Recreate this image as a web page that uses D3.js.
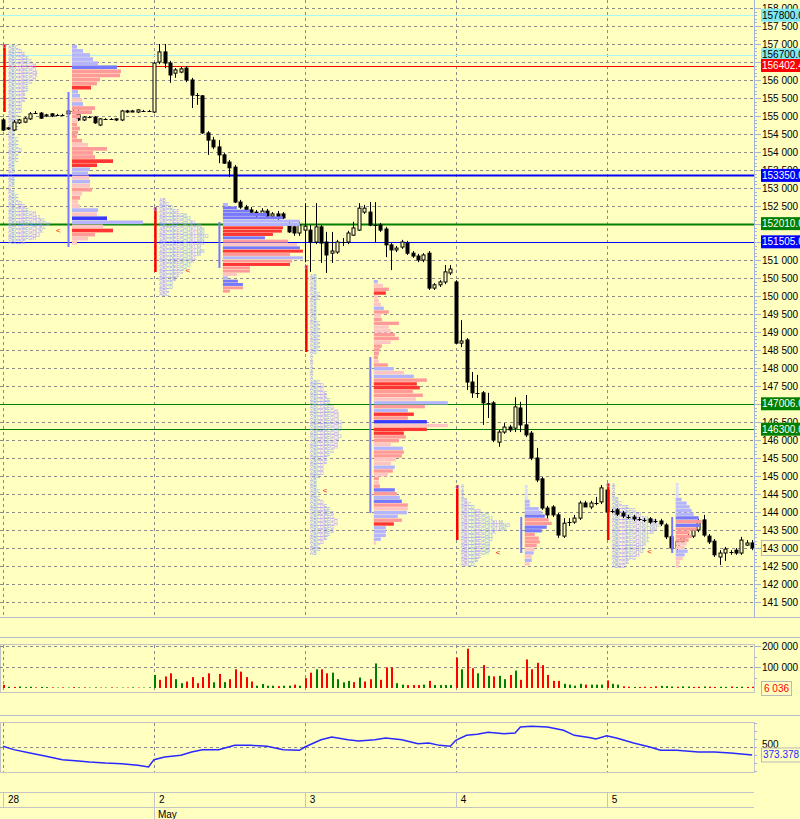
<!DOCTYPE html>
<html>
<head>
<meta charset="utf-8">
<script src="https://cdn.jsdelivr.net/npm/d3@7"></script>
<style>
  body { margin: 0; background: #ffffc0; }
  svg text { font-family: "Liberation Sans", Arial, sans-serif; }
</style>
</head>
<body>
<svg id="chart"></svg>
<script>
// sessions
const dayLabels = ['28', '2', '3', '4', '5'];
const dayFirstBar = [0, 28, 56, 84, 112];

// bars: [open, high, low, close]
const candles = [
  [154890,154940,154580,154610],[154640,154690,154610,154670],[154610,154890,154580,154830],[154810,154920,154780,154890],
  [154830,154970,154810,154940],[154920,155110,154890,155060],[155080,155140,155060,155080],[155080,155110,154920,154940],
  [155000,155060,154970,155030],[155060,155080,154970,155000],[155030,155060,155000,155030],[155030,155060,155000,155030],
  [155060,155170,155030,155140],[155140,155190,155110,155140],[155110,155220,154860,154890],[154890,155000,154860,154970],
  [154970,155000,154940,154970],[154970,155000,154780,154810],[154750,154940,154720,154920],[154920,154940,154890,154920],
  [154920,154940,154890,154920],[154890,154940,154860,154920],[154890,155170,154860,155140],[155140,155170,155080,155110],
  [155110,155170,155110,155140],[155110,155190,155080,155170],[155140,155170,155110,155140],[155140,155170,155110,155140],
  // 2 May
  [155110,156500,155080,156470],[156500,157000,156440,156780],[156780,157000,156330,156470],[156470,156530,155920,156140],
  [156190,156330,156060,156280],[156220,156360,156190,156310],[156330,156390,155940,156000],[156000,156060,155220,155580],
  [155580,155640,155310,155560],[155560,155580,154500,154530],[154530,154580,153920,154330],[154330,154420,154080,154140],
  [154140,154330,153690,153920],[153920,153970,153670,153690],[153720,153780,153310,153560],[153580,153640,152580,152610],
  [152610,152670,152420,152470],[152470,152530,152330,152390],[152390,152470,152280,152330],[152330,152390,152170,152250],
  [152250,152440,152220,152360],[152360,152420,152140,152220],[152220,152330,152170,152280],[152280,152360,152110,152190],
  [152280,152330,152140,152170],[152000,152060,151750,151780],[151920,151970,151670,151750],[151750,152060,151670,151970],
  // 3 May
  [151830,152580,150940,151940],[151830,151970,150670,151500],[151500,152580,151440,151920],[151920,151970,150920,151470],
  [151500,151780,150640,151140],[151190,151780,150920,151250],[151220,151560,151170,151500],[151500,151610,151390,151500],
  [151500,151810,151440,151750],[151690,152060,151670,151890],[151830,152580,151810,152440],[152330,152530,152280,152440],
  [152330,152610,151940,151970],[151970,152610,151500,151970],[151970,152030,151780,151830],[151860,151920,151080,151420],
  [151420,151470,150720,151280],[151280,151390,151220,151330],[151360,151560,151310,151500],[151470,151530,151140,151190],
  [151190,151250,151060,151110],[151110,151170,150940,151000],[151000,151190,150940,151140],[151190,151250,150170,150220],
  [150220,150360,150170,150310],[150310,150440,150250,150390],[150390,150860,150330,150670],[150640,150860,150580,150750],
  // 4 May
  [150390,150440,148670,148690],[148690,149330,148580,148750],[148780,148830,147390,147610],[147610,147890,147170,147310],
  [147310,147810,147170,147310],[147310,147360,146420,147030],[147030,147310,146610,147030],[147030,147080,145940,146000],
  [145940,146280,145810,146220],[146220,146470,146170,146360],[146360,146420,146220,146280],[146330,147190,146220,146920],
  [146890,147060,146220,146420],[146420,147250,146080,146140],[146190,146250,145440,145500],[145500,145780,144830,144890],
  [144920,144970,144060,144110],[144110,144170,143780,143920],[144140,144190,143860,143920],[143920,143970,143280,143360],
  [143330,143830,143280,143690],[143720,143830,143610,143720],[143720,143920,143670,143830],[143830,144310,143780,144250],
  [144250,144310,144140,144140],[144140,144310,144080,144250],[144250,144420,144190,144250],[144280,144750,144220,144670],
  // 5 May
  [144610,144750,143500,144000],[144030,144080,143970,144030],[144060,144110,143890,143940],[143970,144030,143830,143890],
  [143860,143920,143810,143860],[143860,143920,143750,143810],[143810,143860,143750,143810],[143780,143830,143720,143780],
  [143810,143860,143670,143720],[143750,143810,143690,143750],[143750,143810,143610,143670],[143640,143690,143250,143310],
  [143310,143360,142940,143000],[143000,143220,142940,143170],[143170,143360,143110,143310],[143330,143390,143280,143330],
  [143330,143560,143280,143500],[143500,143810,143440,143750],[143780,143920,143310,143360],[143330,143390,143110,143170],
  [143190,143250,142750,142810],[142750,142940,142530,142860],[142860,143030,142640,142970],[142890,142940,142810,142890],
  [142940,143000,142810,142860],[142860,143310,142810,143220],[143080,143220,143060,143140],[143140,143220,142940,143000]
];

const volumes = [
  15000,6000,5000,7000,4000,6000,3000,5000,4000,3000,2000,3000,2000,4000,3000,3000,2000,3000,2000,2000,3000,2000,2000,2000,3000,2000,2000,3000,
  62000,39000,55000,70000,42000,23000,31000,52000,23000,52000,70000,27000,67000,28000,42000,89000,78000,52000,31000,11000,19000,11000,11000,9000,11000,11000,16000,11000,
  47000,73000,89000,89000,70000,73000,42000,27000,34000,28000,50000,31000,42000,117000,39000,98000,98000,23000,16000,14000,14000,14000,16000,34000,14000,14000,14000,14000,
  145000,89000,187000,94000,70000,109000,58000,55000,58000,42000,62000,83000,39000,136000,89000,120000,109000,62000,34000,34000,20000,16000,11000,20000,16000,16000,16000,16000,
  36000,20000,16000,8000,6000,5000,5000,6000,5000,8000,10000,9000,7000,6000,8000,7000,5000,6000,7000,6000,5000,6000,5000,7000,5000,6000,5000,6036
];
const volumeSide =
  'rgrgggrggrgrgrgrggrgrggrgrgg' +
  'grrrggrrrrrgrgrrrrrggggrggrg' +
  'rrgrrggggrgrrgrrrggrrrgrgggg' +
  'rgrrgrgrggrgrrrrrrrrggggrggg' +
  'rggrrgrrrrgggrggrrgrrggrggrr';

// oscillator (lower pane)
const oscBar = [0,2,5,8,11,14,16,19,22,25,27,28,30,33,35,37,40,43,46,49,52,55,56,59,61,64,66,69,71,74,77,79,81,83,84,86,88,90,93,95,96,98,101,104,106,109,110,112,114,117,120,122,125,129,132,135,139];
const oscVal = [511,458,405,352,299,278,262,246,236,209,183,299,341,368,421,458,458,526,526,511,458,447,500,616,659,616,595,616,643,616,553,563,526,511,606,685,701,733,712,722,817,828,817,765,685,648,627,680,638,563,500,447,447,421,421,405,373.378];

// horizontal price levels
const levelPrice = [157800, 156700, 156402.4, 153350, 152010, 151505, 147006, 146300];
const levelText = ['157800.0', '156700.0', '156402.4', '153350.0', '152010.0', '151505.0', '147006.0', '146300.0'];
const levelKind = ['cyan', 'cyan', 'red', 'blue2', 'green2', 'blue', 'green', 'green'];

// market profile per session
const vpHigh = [156972, 152583, 150444, 144750, 144806];
const vpLow = [151417, 150083, 143083, 142500, 142444];
const vpVolume = [
  [5,11,18,21,26,45,49,48,28,25,19,6,8,10,11,23,20,8,6,5,8,6,5,10,16,35,21,23,41,25,18,16,17,18,18,20,10,8,6,8,26,25,35,71,31,41,23,16,5],
  [5,14,27,44,60,77,77,60,59,50,42,65,74,77,80,67,80,69,67,27,27,14,5,15,20,20,7],
  [4,9,15,12,4,5,7,10,15,7,8,25,15,17,21,25,17,8,6,5,4,5,14,20,30,40,53,43,46,39,49,42,74,51,34,40,34,53,74,53,30,32,25,17,29,30,28,22,17,21,19,14,5,5,6,21,23,26,28,34,34,33,24,28,20,12,12,12,7,2],
  [3,3,3,3,5,5,14,17,20,24,27,22,17,10,14,15,12,10,9,7,7,5],
  [3,3,3,3,6,11,14,16,18,23,26,24,21,14,16,13,11,9,12,9,7,4,3]
];
const vpTone = [
  'bbbbbBrrrrRbbpbrrrprrrrrprrrRRbbpbprprppbpDbpRrpp',
  'bBBBBbbRRRBrpBRrbrRrrpbBBrr',
  'bprRpppbrprrpprrprrrrprbpbrRRrrpbrbRrDpRRrrpbrrppbrprprBrbBrpbbrRbbbbp',
  'llllbbbbBrrBBrrrrpbpbp',
  'llllbbbbbBrBrrrrppbbppp'
];
const tpoHigh = [156950, 152700, 150600, 144750, 144800];
const tpoLow = [151450, 150000, 142800, 142500, 142450];
const tpoCount = [
  [3,4,5,6,7,8,8,9,9,8,7,6,6,5,5,5,4,4,4,3,3,3,3,3,2,2,3,3,3,4,3,3,3,2,2,2,1,2,2,2,1,2,3,3,4,5,6,8,10,12,13,12,11,10,8,5],
  [2,3,4,6,8,10,12,13,14,14,15,14,14,13,14,13,12,11,10,8,7,6,5,4,4,3,3],
  [2,2,2,2,2,3,3,2,2,2,2,2,2,3,3,3,3,3,3,3,3,2,1,1,1,1,1,1,1,3,4,4,5,5,6,6,7,8,9,9,10,10,10,9,10,9,8,8,7,6,5,5,4,4,4,3,2,2,2,3,2,3,4,5,6,7,7,8,8,7,7,6,5,4,3,3,2],
  [1,1,1,1,2,3,4,6,8,10,13,15,14,11,10,10,9,9,9,8,6,5,4],
  [1,1,1,1,2,3,5,7,9,12,14,15,14,13,12,12,11,10,10,8,7,5,4]
];
const ibHigh = [157000, 152472, 150861, 144750, 144805];
const ibLow = [155111, 150666, 148444, 143222, 143222];
const vaHigh = [155666, 152055, 148305, 143861, 143861];
const vaLow = [151361, 150778, 143972, 142861, 142861];
const markPrice = [151833, 150722, 144611, 142889, 142916];
const markBar = [10.2, 34.3, 59.7, 91.8, 119.9];

const priceTicks = d3.range(141500, 158001, 500);
const volumeTicks = [100000, 200000];

// ---------------------------------------------------------------
const W = 800, H = 819;
const axisX = 754;
const svg = d3.select('#chart').attr('width', W).attr('height', H);
svg.append('rect').attr('width', W).attr('height', H).attr('fill', '#ffffc0');

const x = d3.scaleLinear().domain([0, 139]).range([3, 752.2]);
const y = d3.scaleLinear().domain([142000, 157000]).range([584, 44]);
const yVol = d3.scaleLinear().domain([0, 200000]).range([688, 646]);
const yOsc = d3.scaleLinear().domain([0, 1000]).range([778.5, 715.5]);
const vpX = d3.scaleLinear().domain([0, 100]).range([0, 100]);
const daySep = dayFirstBar.map(i => x(i));

const defs = svg.append('defs');
defs.append('clipPath').attr('id', 'plot')
  .append('rect').attr('x', 0).attr('y', 0).attr('width', axisX).attr('height', 617);

const grid = '#8c8c8c';
const fs = 10;
const fmt = v => d3.format(',')(v).replace(/,/g, ' ');

// ---- main pane grid
const main = svg.append('g').attr('clip-path', 'url(#plot)');
main.selectAll('.hgrid').data(priceTicks).enter().append('line')
  .attr('x1', 0).attr('x2', axisX)
  .attr('y1', d => Math.round(y(d)) + 0.5).attr('y2', d => Math.round(y(d)) + 0.5)
  .attr('stroke', grid).attr('stroke-dasharray', '3,3');
main.selectAll('.vgrid').data(daySep).enter().append('line')
  .attr('x1', d => Math.round(d) + 0.5).attr('x2', d => Math.round(d) + 0.5)
  .attr('y1', 0).attr('y2', 617)
  .attr('stroke', grid).attr('stroke-dasharray', '3,3');

// ---- level lines
const levelStyle = {
  cyan: { line: '#a8f4f8', w: 1, bg: '#80e8f0', fg: '#000' },
  red: { line: '#ff0000', w: 1, bg: '#ff0000', fg: '#fff' },
  blue: { line: '#0000ff', w: 1, bg: '#0000ff', fg: '#fff' },
  blue2: { line: '#0000ff', w: 2, bg: '#0000ff', fg: '#fff' },
  green: { line: '#008000', w: 1, bg: '#008000', fg: '#fff' },
  green2: { line: '#008000', w: 2, bg: '#008000', fg: '#fff' }
};
main.selectAll('.level').data(levelPrice).enter().append('line')
  .attr('x1', 0).attr('x2', axisX)
  .attr('y1', d => Math.round(y(d)) + 0.5).attr('y2', d => Math.round(y(d)) + 0.5)
  .attr('stroke', (d, i) => levelStyle[levelKind[i]].line)
  .attr('stroke-width', (d, i) => levelStyle[levelKind[i]].w);

// ---- TPO letters (under the bars)
const letters = 'ABCDEFGHIJKLMNOPQRSTUVWX';
dayFirstBar.forEach((first, d) => {
  const x0 = daySep[d];
  const tStep = (tpoHigh[d] - tpoLow[d]) / tpoCount[d].length;
  tpoCount[d].forEach((n, r) => {
    main.append('text')
      .attr('x', x0 + 5)
      .attr('y', y(tpoHigh[d] - (r + 1) * tStep) - 0.2)
      .attr('font-size', 5)
      .attr('font-family', 'DejaVu Sans')
      .attr('fill', '#9c9cff')
      .text(letters.slice(0, n));
  });
});

// ---- candles
const cg = main.append('g');
candles.forEach((c, i) => {
  const [o, h, l, cl] = c;
  const cx = Math.round(x(i)) + 0.5;
  cg.append('line')
    .attr('x1', cx).attr('x2', cx)
    .attr('y1', y(h)).attr('y2', y(l))
    .attr('stroke', '#000');
  const top = y(Math.max(o, cl)), bot = y(Math.min(o, cl));
  if (bot - top < 1) {
    cg.append('line')
      .attr('x1', cx - 2).attr('x2', cx + 2)
      .attr('y1', Math.round(top) + 0.5).attr('y2', Math.round(top) + 0.5)
      .attr('stroke', '#000');
  } else {
    cg.append('rect')
      .attr('x', cx - 1.5).attr('y', top)
      .attr('width', 3).attr('height', bot - top)
      .attr('fill', cl >= o ? '#ffffc0' : '#000')
      .attr('stroke', '#000').attr('stroke-width', 1);
  }
});

// ---- volume at price + session marks (over the bars)
const tone = {
  l: '#dcdcff', b: '#b4b4ff', B: '#7878ff', D: '#3a3aff',
  p: '#ffc4c4', r: '#ff9a9a', R: '#ff3434'
};
dayFirstBar.forEach((first, d) => {
  const x0 = daySep[d];
  const g = main.append('g');
  const vStep = (vpHigh[d] - vpLow[d]) / vpVolume[d].length;
  vpVolume[d].forEach((v, r) => {
    const yt = y(vpHigh[d] - r * vStep), yb = y(vpHigh[d] - (r + 1) * vStep);
    g.append('rect')
      .attr('x', x0 + 69).attr('y', yt)
      .attr('width', vpX(v)).attr('height', Math.max(1, yb - yt - 0.4))
      .attr('fill', tone[vpTone[d][r]]);
  });
  g.append('line')
    .attr('x1', x0 + 1.5).attr('x2', x0 + 1.5)
    .attr('y1', y(ibHigh[d])).attr('y2', y(ibLow[d]))
    .attr('stroke', '#ff0000').attr('stroke-width', 2.5);
  g.append('circle')
    .attr('cx', x0 + 1.5).attr('cy', y(ibHigh[d]) + 2).attr('r', 1.5)
    .attr('fill', 'none').attr('stroke', '#9c9cff').attr('stroke-width', 0.8);
  g.append('line')
    .attr('x1', x0 + 65.5).attr('x2', x0 + 65.5)
    .attr('y1', y(vaHigh[d])).attr('y2', y(vaLow[d]))
    .attr('stroke', '#7878ff').attr('stroke-width', 2);
  g.append('text')
    .attr('x', x(markBar[d]) - 2).attr('y', y(markPrice[d]) + 3)
    .attr('font-size', 8).attr('fill', '#ff0000')
    .text('<');
});

// ---- price axis
const ax = svg.append('g');
ax.append('line')
  .attr('x1', axisX + 0.5).attr('x2', axisX + 0.5).attr('y1', 0).attr('y2', 617)
  .attr('stroke', '#a4b4d8');
ax.selectAll('.minor').data(d3.range(141500, 158100, 100)).enter().append('line')
  .attr('x1', axisX).attr('x2', d => axisX + (d % 500 === 0 ? 7 : 3))
  .attr('y1', d => Math.round(y(d)) + 0.5).attr('y2', d => Math.round(y(d)) + 0.5)
  .attr('stroke', '#a4b4d8');
ax.selectAll('.plabel').data(priceTicks).enter().append('text')
  .attr('x', 762).attr('y', d => y(d) + 3.5)
  .attr('font-size', fs).attr('fill', '#000')
  .text(fmt);

// level tags on axis
levelPrice.forEach((p, i) => {
  const s = levelStyle[levelKind[i]];
  const yy = y(p);
  ax.append('rect')
    .attr('x', 761).attr('y', yy - 6.5).attr('width', 45).attr('height', 13)
    .attr('fill', s.bg);
  ax.append('text')
    .attr('x', 762).attr('y', yy + 3.5)
    .attr('font-size', fs).attr('fill', s.fg)
    .text(levelText[i]);
});

// last price tag
const lastClose = candles[candles.length - 1][3];
ax.append('rect')
  .attr('x', 761.5).attr('y', y(lastClose) - 7.5).attr('width', 40).attr('height', 15)
  .attr('fill', '#ffffc0').attr('stroke', '#b8b8b8');
ax.append('text')
  .attr('x', 762).attr('y', y(lastClose) + 3.5)
  .attr('font-size', fs).attr('fill', '#000')
  .text(fmt(lastClose));

// ---- pane separators
[617, 637, 715].forEach(yy => {
  svg.append('line').attr('x1', 0).attr('x2', W)
    .attr('y1', yy + 0.5).attr('y2', yy + 0.5)
    .attr('stroke', '#b8bcd0');
});

// ---- volume pane
const vol = svg.append('g');
vol.append('rect').attr('x', 0.5).attr('y', 644.5).attr('width', axisX).attr('height', 48)
  .attr('fill', 'none').attr('stroke', '#c4c4c4');
vol.selectAll('.vh').data(volumeTicks).enter().append('line')
  .attr('x1', 0).attr('x2', axisX)
  .attr('y1', d => Math.round(yVol(d)) + 0.5).attr('y2', d => Math.round(yVol(d)) + 0.5)
  .attr('stroke', grid).attr('stroke-dasharray', '3,3');
vol.selectAll('.vv').data(daySep).enter().append('line')
  .attr('x1', d => Math.round(d) + 0.5).attr('x2', d => Math.round(d) + 0.5)
  .attr('y1', 645).attr('y2', 692)
  .attr('stroke', grid).attr('stroke-dasharray', '3,3');
vol.selectAll('.vbar').data(volumes).enter().append('rect')
  .attr('x', (d, i) => Math.round(x(i)))
  .attr('y', d => yVol(d))
  .attr('width', 2)
  .attr('height', d => yVol(0) - yVol(d))
  .attr('fill', (d, i) => volumeSide[i] === 'g' ? '#008000' : '#ff0000');
vol.selectAll('.vtick').data([50000, 100000, 150000, 200000]).enter().append('line')
  .attr('x1', axisX).attr('x2', d => axisX + (d % 100000 === 0 ? 7 : 3))
  .attr('y1', d => Math.round(yVol(d)) + 0.5).attr('y2', d => Math.round(yVol(d)) + 0.5)
  .attr('stroke', '#a4b4d8');
vol.selectAll('.vlab').data(volumeTicks).enter().append('text')
  .attr('x', 762).attr('y', d => yVol(d) + 3.5)
  .attr('font-size', fs).attr('fill', '#000')
  .text(fmt);
const lastVol = volumes[volumes.length - 1];
vol.append('rect')
  .attr('x', 761.5).attr('y', 681.5).attr('width', 30).attr('height', 14)
  .attr('fill', '#ffffc0').attr('stroke', '#b8b8b8');
vol.append('text')
  .attr('x', 764).attr('y', 692)
  .attr('font-size', fs).attr('fill', '#ff0000')
  .text(fmt(lastVol));

// ---- oscillator pane
const osc = svg.append('g');
osc.append('rect').attr('x', 0.5).attr('y', 722.5).attr('width', axisX).attr('height', 50)
  .attr('fill', 'none').attr('stroke', '#c4c4c4');
osc.append('line')
  .attr('x1', 0).attr('x2', axisX)
  .attr('y1', Math.round(yOsc(500)) + 0.5).attr('y2', Math.round(yOsc(500)) + 0.5)
  .attr('stroke', grid).attr('stroke-dasharray', '3,3');
osc.selectAll('.ov').data(daySep).enter().append('line')
  .attr('x1', d => Math.round(d) + 0.5).attr('x2', d => Math.round(d) + 0.5)
  .attr('y1', 723).attr('y2', 772)
  .attr('stroke', grid).attr('stroke-dasharray', '3,3');
osc.selectAll('.otick').data([125, 250, 375, 500, 625, 750, 875]).enter().append('line')
  .attr('x1', axisX).attr('x2', axisX + 3)
  .attr('y1', d => Math.round(yOsc(d)) + 0.5).attr('y2', d => Math.round(yOsc(d)) + 0.5)
  .attr('stroke', '#a4b4d8');
osc.append('path')
  .datum(oscBar.map((b, i) => [b, oscVal[i]]))
  .attr('d', d3.line().x(d => x(d[0])).y(d => yOsc(d[1])))
  .attr('fill', 'none').attr('stroke', '#2828ff').attr('stroke-width', 1.5);
osc.append('text')
  .attr('x', 762).attr('y', yOsc(500) + 1)
  .attr('font-size', fs).attr('fill', '#000')
  .text('500');
const lastOsc = oscVal[oscVal.length - 1];
osc.append('rect')
  .attr('x', 761.5).attr('y', yOsc(lastOsc) - 7).attr('width', 42).attr('height', 14)
  .attr('fill', '#ffffc0').attr('stroke', '#b8b8b8');
osc.append('text')
  .attr('x', 763).attr('y', yOsc(lastOsc) + 3.5)
  .attr('font-size', fs).attr('fill', '#2828ff')
  .text(d3.format('.3f')(lastOsc));

// ---- date axis
const dt = svg.append('g');
[792, 807].forEach(yy => {
  dt.append('line').attr('x1', 0).attr('x2', axisX)
    .attr('y1', yy + 0.5).attr('y2', yy + 0.5).attr('stroke', '#c4c4c4');
});
daySep.forEach((sx, i) => {
  dt.append('line')
    .attr('x1', Math.round(sx) + 0.5).attr('x2', Math.round(sx) + 0.5)
    .attr('y1', 792).attr('y2', i === 1 ? 819 : 807)
    .attr('stroke', '#c4c4c4');
  dt.append('text')
    .attr('x', sx + 5).attr('y', 803)
    .attr('font-size', fs).attr('fill', '#000')
    .text(dayLabels[i]);
});
dt.append('text')
  .attr('x', daySep[1] + 4).attr('y', 818)
  .attr('font-size', fs).attr('fill', '#000')
  .text('May');
</script>
</body>
</html>
